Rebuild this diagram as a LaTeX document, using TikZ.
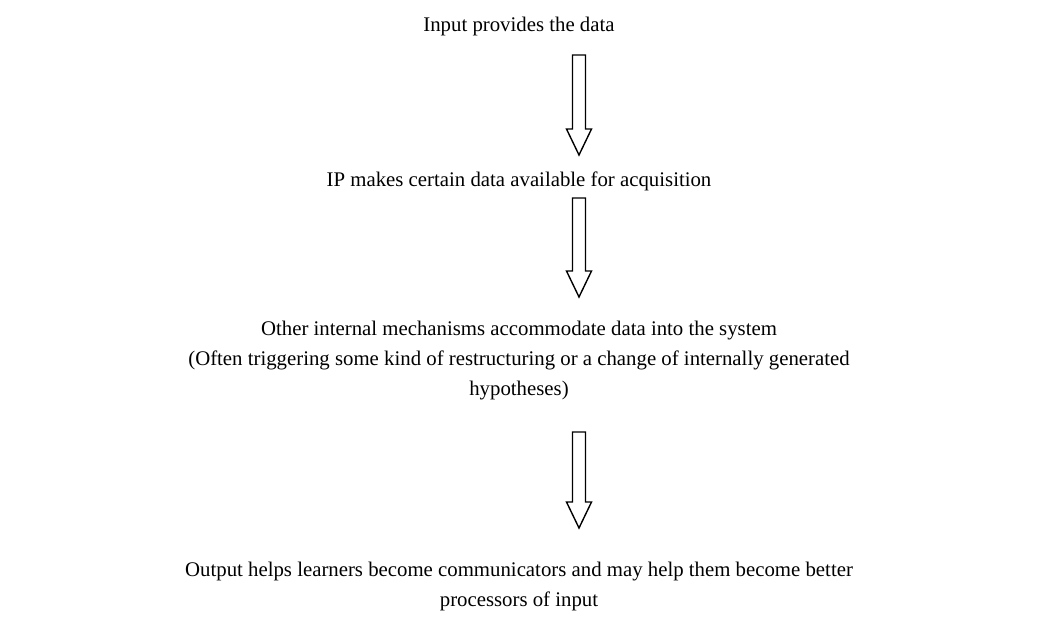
\documentclass[tikz,border=0pt]{standalone}
\usepackage{fontspec}
\setmainfont{Liberation Serif}
\usetikzlibrary{calc}

\tikzset{
	stage/.style={align=center, inner sep=0pt, font=\fontsize{20.8}{30}\selectfont},
	hollow/.style={draw=black, line width=1.4pt, line join=miter}
}
% block arrow from a top coordinate to a tip coordinate
\newcommand{\blockarrow}[2]{%
	\draw[hollow] ($(#1)+(-6.5,0)$) -- ($(#1)+(6.5,0)$) -- ($(#2)+(6.5,26)$)
		-- ($(#2)+(12.5,26)$) -- (#2) -- ($(#2)+(-12.5,26)$)
		-- ($(#2)+(-6.5,26)$) -- cycle;}

\begin{document}
\begin{tikzpicture}[x=1pt, y=1pt]
	\useasboundingbox (0,0) rectangle (1038,-627);

	\node[stage] (input) at (519,-26) {Input provides the data};
	\node[stage] (ip) at (519,-181) {IP makes certain data available for acquisition};
	\node[stage] (internal) at (519,-361) {Other internal mechanisms accommodate data into the system\\
		(Often triggering some kind of restructuring or a change of internally generated\\
		hypotheses)};
	\node[stage] (output) at (519,-586) {Output helps learners become communicators and may help them become better\\
		processors of input};

	\coordinate (a1) at (579,-55);
	\coordinate (t1) at (579,-155);
	\coordinate (a2) at (579,-198);
	\coordinate (t2) at (579,-297);
	\coordinate (a3) at (579,-432);
	\coordinate (t3) at (579,-528);

	\blockarrow{a1}{t1}
	\blockarrow{a2}{t2}
	\blockarrow{a3}{t3}
\end{tikzpicture}
\end{document}
